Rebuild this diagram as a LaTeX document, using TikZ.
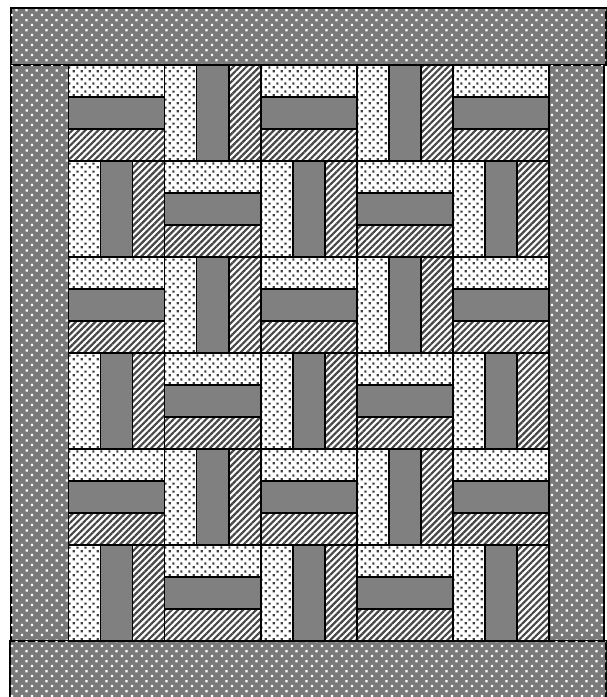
\documentclass[tikz,border=0pt]{standalone}
\usetikzlibrary{patterns,patterns.meta}
\tikzdeclarepattern{
  name=qdots, type=uncolored,
  bottom left={(0pt,0pt)}, top right={(8pt,8pt)}, tile size={(8pt,8pt)},
  code={\fill (0.8pt,0.8pt) rectangle (3.2pt,3.2pt); \fill (4.8pt,4.8pt) rectangle (7.2pt,7.2pt);}
}
\tikzdeclarepattern{
  name=qstars, type=uncolored,
  bottom left={(0pt,0pt)}, top right={(10pt,10pt)}, tile size={(10pt,10pt)},
  code={\fill (1pt,1pt) rectangle (3.5pt,3.5pt); \fill (6pt,6pt) rectangle (8.5pt,8.5pt);}
}
\tikzset{
  edge/.style={draw=black, line width=1.7pt},
  dotstrip/.style={edge, pattern=qdots, pattern color=black!75},
  graystrip/.style={edge, fill=black!50},
  hatchstrip/.style={edge, pattern={Lines[angle=45,distance=4.6pt,line width=2.2pt]}, pattern color=black!72},
  borderband/.style={edge, fill=black!52, postaction={pattern=qstars, pattern color=white}},
}
\begin{document}
\begin{tikzpicture}[x=1pt,y=-1pt]
\useasboundingbox (0,0) rectangle (607,697);
\fill[white] (0,0) rectangle (607,697);
% borders
\path[borderband] (11,8) rectangle (606,65);
\path[borderband] (11,65) rectangle (68.5,641);
\path[borderband] (549,65) rectangle (604,641);
\path[borderband] (10,641) rectangle (606,700);
% blocks
\foreach \r in {0,...,5}{
  \foreach \c in {0,...,4}{
    \pgfmathsetmacro\xa{68.5+96.1*\c}
    \pgfmathsetmacro\ya{65+96*\r}
    \pgfmathsetmacro\xb{\xa+32.03}
    \pgfmathsetmacro\xc{\xa+64.07}
    \pgfmathsetmacro\xd{\xa+96.1}
    \pgfmathsetmacro\yb{\ya+32}
    \pgfmathsetmacro\yc{\ya+64}
    \pgfmathsetmacro\yd{\ya+96}
    \pgfmathtruncatemacro\oddq{mod(\r+\c,2)}
    \ifnum\oddq=0
      \path[dotstrip] (\xa,\ya) rectangle (\xd,\yb);
      \path[graystrip] (\xa,\yb) rectangle (\xd,\yc);
      \path[hatchstrip] (\xa,\yc) rectangle (\xd,\yd);
    \else
      \path[dotstrip] (\xa,\ya) rectangle (\xb,\yd);
      \path[graystrip] (\xb,\ya) rectangle (\xc,\yd);
      \path[hatchstrip] (\xc,\ya) rectangle (\xd,\yd);
    \fi
  }
}
\end{tikzpicture}
\end{document}
